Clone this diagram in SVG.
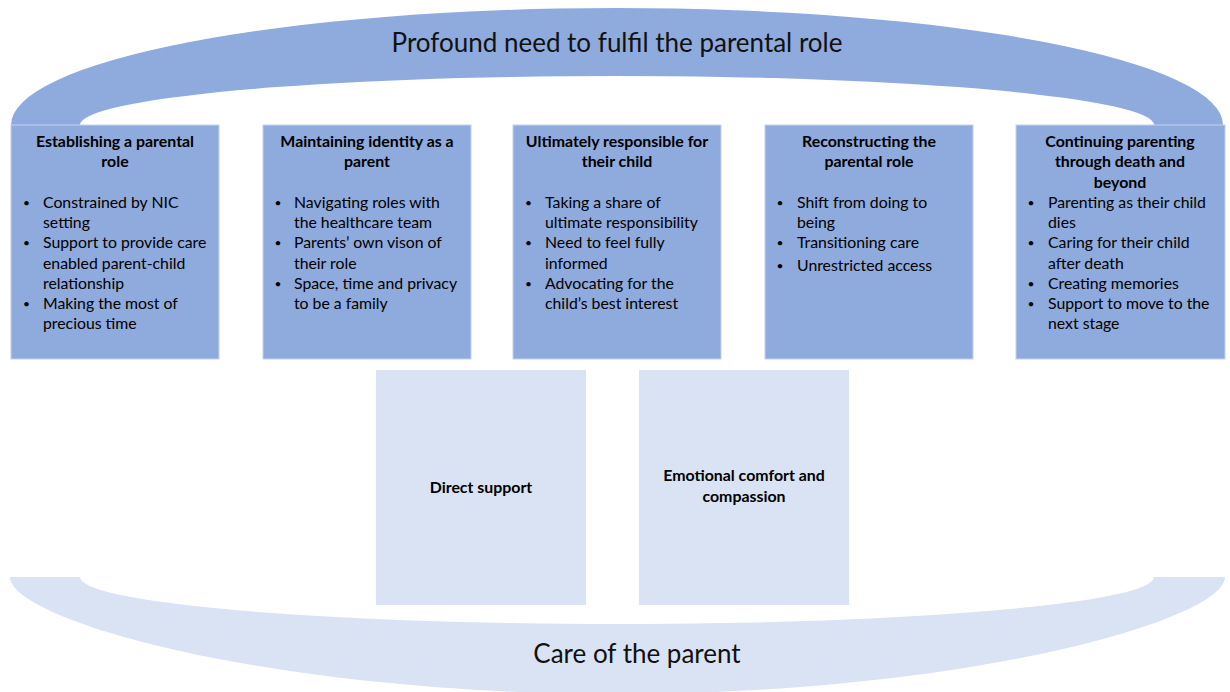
<svg xmlns="http://www.w3.org/2000/svg" width="1230" height="692" viewBox="0 0 1230 692">
<style>
.dark{fill:#8FAADC;}
.light{fill:#DAE3F3;}
.box{stroke:#c4d2ec;stroke-width:1;}
text{font-family:Lato,"Liberation Sans",Arial,sans-serif;fill:#000;}
.h{font-size:15.9px;font-weight:bold;text-anchor:middle;}
.b{font-size:15.8px;}
.dot{font-size:12px;text-anchor:middle;}
.big{font-size:26px;text-anchor:middle;fill:#111;}
</style>
<rect width="1230" height="692" fill="#fff"/>

<g id="top-arch">
<path class="dark" d="M11,125 A606,117 0 0 1 1223,125 L1154,125 A537,49 0 0 0 80,125 Z"/>
<text class="big" x="617" y="52">Profound need to fulfil the parental role</text>
</g>

<g id="bottom-arch">
<path class="light" d="M10,577 L80,577 A537,47 0 0 0 1154,577 L1225,577 C1225,620 965,694 617,694 C269,694 10,620 10,577 Z"/>
<text class="big" x="637" y="663">Care of the parent</text>
</g>

<g id="connectors"></g>

<g id="node-establishing">
<rect class="dark box" x="11" y="125" width="208" height="234"/>
<text class="h" x="115" y="147">Establishing a parental</text>
<text class="h" x="115" y="167">role</text>
<text class="dot" x="26.5" y="207">•</text>
<text class="b" x="43" y="208">Constrained by NIC</text>
<text class="b" x="43" y="228">setting</text>
<text class="dot" x="26.5" y="247">•</text>
<text class="b" x="43" y="248">Support to provide care</text>
<text class="b" x="43" y="269">enabled parent-child</text>
<text class="b" x="43" y="289">relationship</text>
<text class="dot" x="26.5" y="308">•</text>
<text class="b" x="43" y="309">Making the most of</text>
<text class="b" x="43" y="329">precious time</text>
</g>

<g id="node-identity">
<rect class="dark box" x="263" y="125" width="208" height="234"/>
<text class="h" x="367" y="147">Maintaining identity as a</text>
<text class="h" x="367" y="167">parent</text>
<text class="dot" x="278" y="207">•</text>
<text class="b" x="294" y="208">Navigating roles with</text>
<text class="b" x="294" y="228">the healthcare team</text>
<text class="dot" x="278" y="247">•</text>
<text class="b" x="294" y="248">Parents’ own vison of</text>
<text class="b" x="294" y="269">their role</text>
<text class="dot" x="278" y="288">•</text>
<text class="b" x="294" y="289">Space, time and privacy</text>
<text class="b" x="294" y="309">to be a family</text>
</g>

<g id="node-responsible">
<rect class="dark box" x="513" y="125" width="208" height="234"/>
<text class="h" x="617" y="147">Ultimately responsible for</text>
<text class="h" x="617" y="167">their child</text>
<text class="dot" x="528.5" y="207">•</text>
<text class="b" x="545" y="208">Taking a share of</text>
<text class="b" x="545" y="228">ultimate responsibility</text>
<text class="dot" x="528.5" y="247">•</text>
<text class="b" x="545" y="248">Need to feel fully</text>
<text class="b" x="545" y="269">informed</text>
<text class="dot" x="528.5" y="288">•</text>
<text class="b" x="545" y="289">Advocating for the</text>
<text class="b" x="545" y="309">child’s best interest</text>
</g>

<g id="node-reconstructing">
<rect class="dark box" x="765" y="125" width="208" height="234"/>
<text class="h" x="869" y="147">Reconstructing the</text>
<text class="h" x="869" y="167">parental role</text>
<text class="dot" x="780" y="207">•</text>
<text class="b" x="797" y="208">Shift from doing to</text>
<text class="b" x="797" y="228">being</text>
<text class="dot" x="780" y="247">•</text>
<text class="b" x="797" y="248">Transitioning care</text>
<text class="dot" x="780" y="270">•</text>
<text class="b" x="797" y="271">Unrestricted access</text>
</g>

<g id="node-continuing">
<rect class="dark box" x="1016" y="125" width="209" height="234"/>
<text class="h" x="1120" y="147">Continuing parenting</text>
<text class="h" x="1120" y="167">through death and</text>
<text class="h" x="1120" y="188">beyond</text>
<text class="dot" x="1031" y="207">•</text>
<text class="b" x="1048" y="208">Parenting as their child</text>
<text class="b" x="1048" y="228">dies</text>
<text class="dot" x="1031" y="247">•</text>
<text class="b" x="1048" y="248">Caring for their child</text>
<text class="b" x="1048" y="269">after death</text>
<text class="dot" x="1031" y="288">•</text>
<text class="b" x="1048" y="289">Creating memories</text>
<text class="dot" x="1031" y="308">•</text>
<text class="b" x="1048" y="309">Support to move to the</text>
<text class="b" x="1048" y="329">next stage</text>
</g>

<g id="node-direct-support">
<rect class="light" x="376" y="370" width="210" height="235"/>
<text class="h" x="481" y="493">Direct support</text>
</g>

<g id="node-emotional">
<rect class="light" x="639" y="370" width="210" height="235"/>
<text class="h" x="744" y="481">Emotional comfort and</text>
<text class="h" x="744" y="502">compassion</text>
</g>
</svg>
